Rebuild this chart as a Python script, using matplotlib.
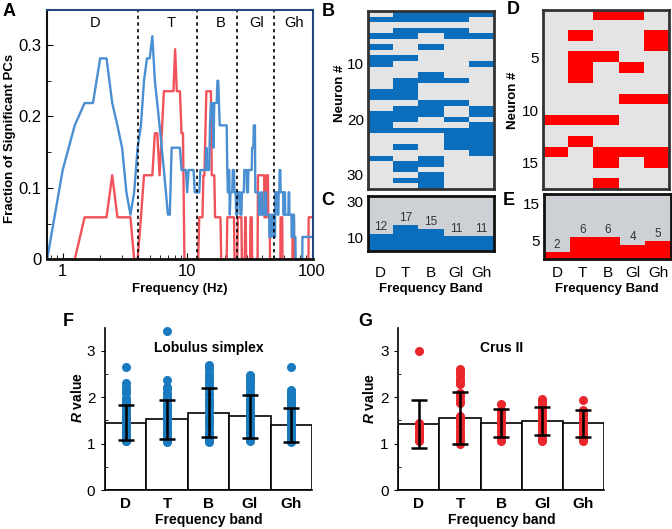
import numpy as np
import matplotlib
matplotlib.use('Agg')
import matplotlib.pyplot as plt
from matplotlib.colors import ListedColormap

plt.rcParams['font.family'] = ['Liberation Sans', 'DejaVu Sans']
plt.rcParams['mathtext.fontset'] = 'custom'
plt.rcParams['mathtext.it'] = 'Liberation Sans:italic:bold'
plt.rcParams['mathtext.rm'] = 'Liberation Sans:bold'

bands = ['D', 'T', 'B', 'Gl', 'Gh']
band_edges = [4, 12, 25, 50]

# ---- panel A: fraction of significant PCs vs frequency (vertices)
# lobulus simplex, counts out of 32 neurons
ls_freq = [0.75, 1.0, 1.25, 1.5, 1.75, 2.0, 2.25, 2.5, 2.75, 3.0, 3.25, 3.5, 3.75, 4.0, 4.25, 4.5,
           4.75, 5.0, 5.25, 5.5, 5.75, 6.0, 6.25, 6.5, 6.75, 7.0, 7.25, 7.5, 8.75, 9.0, 9.75, 10.0,
           10.25, 11.25, 11.5, 12.5, 12.75, 14.0, 14.25, 14.5, 15.0, 15.25, 15.5, 16.0, 16.25, 16.5,
           17.25, 17.5, 17.75, 18.0, 18.25, 20.75, 21.0, 21.25, 21.5, 21.75, 22.0, 22.25, 23.0, 23.25,
           23.75, 24.0, 24.5, 24.75, 25.25, 25.5, 26.5, 26.75, 27.25, 27.5, 28.5, 28.75, 30.0, 30.25,
           30.75, 31.0, 33.0, 33.25, 34.0, 34.25, 35.0, 35.25, 37.5, 37.75, 39.0, 39.25, 40.0, 40.25,
           42.0, 42.25, 43.0, 43.25, 45.5, 45.75, 47.0, 47.25, 49.0, 49.25, 50.75, 51.0, 53.0, 53.25,
           54.0, 54.25, 55.0, 55.25, 56.0, 56.25, 59.0, 59.25, 60.0, 60.25, 61.0, 61.25, 65.0, 65.25,
           66.0, 66.25, 68.75, 69.0, 70.5, 70.75, 72.0, 72.25, 74.0, 74.25, 84.0, 84.25, 100.0]
ls_count = [0, 4, 6, 7, 7, 9, 9, 7, 6, 5, 3, 2, 3, 5, 6, 8,
            9, 9, 10, 8, 7, 6, 5, 4, 3, 2, 2, 5, 5, 4, 4, 3,
            4, 4, 3, 3, 4, 4, 5, 4, 4, 6, 7, 7, 5, 7,
            7, 8, 8, 7, 6, 6, 4, 3, 4, 4, 2, 3, 3, 4,
            4, 3, 3, 2, 2, 3, 3, 2, 2, 3, 3, 4, 4, 3,
            3, 4, 4, 5, 5, 6, 6, 3, 3, 2, 2, 3, 3, 2,
            2, 3, 3, 2, 2, 1, 1, 2, 2, 1, 1, 3, 3, 2,
            2, 3, 3, 4, 4, 3, 3, 2, 2, 3, 3, 2, 2, 3,
            3, 2, 2, 1, 1, 2, 2, 1, 1, 0, 0, 1, 1]
# crus II, counts out of 17 neurons
cr_freq = [0.75, 1.25, 1.5, 2.25, 2.5, 2.75, 3.5, 3.75, 4.0, 4.25, 4.5, 5.25, 5.5, 5.75, 6.0, 6.25,
           6.5, 7.75, 8.0, 8.25, 8.75, 9.0, 9.25, 9.5, 12.25, 12.5, 13.25, 13.5, 13.75, 14.0, 14.25,
           15.5, 15.75, 16.5, 16.75, 18.5, 18.75, 20.75, 21.0, 23.75, 24.0, 25.25, 25.5, 27.25, 27.5,
           29.0, 29.25, 29.5, 29.75, 32.0, 32.25, 33.0, 33.25, 36.75, 37.0, 41.5, 41.75, 43.0, 43.25,
           44.5, 44.75, 46.0, 46.25, 56.0, 56.25, 58.0, 58.25, 70.0, 70.25, 72.0, 72.25, 94.25, 94.5, 100.0]
cr_count = [0, 0, 1, 1, 2, 1, 1, 0, 0, 1, 2, 2, 3, 3, 2, 3,
            4, 4, 5, 4, 4, 3, 3, 0, 0, 1, 1, 2, 2, 3, 4,
            4, 2, 2, 1, 1, 0, 0, 1, 1, 0, 0, 1, 1, 0,
            0, 1, 1, 0, 0, 1, 1, 0, 0, 2, 2, 1, 1, 2,
            2, 1, 1, 0, 0, 1, 1, 0, 0, 1, 1, 0, 0, 1, 1]

# ---- panels B-E: neurons with significant PCs in each band (row numbers)
ls_rows_D = [2, 5, 7, 9, 10, 15, 16, 19, 20, 21, 22, 27]
ls_rows_T = [1, 2, 4, 5, 9, 13, 14, 15, 16, 18, 19, 20, 22, 25, 28, 29, 31]
ls_rows_B = [1, 2, 4, 7, 12, 13, 17, 18, 19, 22, 27, 28, 30, 31, 32]
ls_rows_Gl = [1, 2, 4, 5, 13, 17, 20, 22, 23, 24, 25]
ls_rows_Gh = [1, 5, 10, 18, 19, 21, 22, 23, 24, 25, 26]
cr_rows_D = [11, 14]
cr_rows_T = [3, 5, 6, 7, 11, 13]
cr_rows_B = [1, 5, 11, 14, 15, 17]
cr_rows_Gl = [1, 6, 9, 14]
cr_rows_Gh = [3, 4, 9, 14, 15]

# ---- panels F-G: R values
ls_mean = [1.45, 1.52, 1.665, 1.59, 1.40]
ls_sd = [0.38, 0.43, 0.53, 0.46, 0.36]
cr_mean = [1.42, 1.55, 1.45, 1.48, 1.44]
cr_sd = [0.51, 0.56, 0.30, 0.30, 0.29]
ls_r_D = [2.65, 2.3, 2.22, 2.15, 2.08, 1.99, 1.94, 1.9, 1.85, 1.8, 1.76, 1.7, 1.66, 1.6, 1.55, 1.5,
          1.46, 1.41, 1.36, 1.31, 1.27, 1.22, 1.18, 1.14, 1.1, 1.08, 1.06, 1.05]
ls_r_T = [3.42, 2.38, 2.22, 2.17, 2.1, 2.04, 1.98, 1.93, 1.86, 1.8, 1.74, 1.68, 1.62, 1.56, 1.5,
          1.44, 1.38, 1.32, 1.26, 1.2, 1.15, 1.1, 1.07, 1.04]
ls_r_B = [2.7, 2.64, 2.58, 2.5, 2.44, 2.38, 2.3, 2.24, 2.17, 2.1, 2.04, 1.97, 1.91, 1.85, 1.78, 1.72,
          1.65, 1.58, 1.52, 1.46, 1.4, 1.33, 1.26, 1.2, 1.14, 1.09, 1.06, 1.04]
ls_r_Gl = [2.48, 2.43, 2.37, 2.3, 2.24, 2.18, 2.1, 2.04, 1.97, 1.9, 1.84, 1.77, 1.7, 1.64, 1.57,
           1.51, 1.45, 1.38, 1.32, 1.26, 1.2, 1.15, 1.1, 1.07, 1.05]
ls_r_Gh = [2.65, 2.15, 2.1, 2.05, 2.0, 1.95, 1.89, 1.83, 1.78, 1.72, 1.66, 1.6, 1.54, 1.48, 1.42,
           1.36, 1.3, 1.24, 1.18, 1.13, 1.09, 1.06, 1.04]
cr_r_D = [3.0, 1.45, 1.4, 1.36, 1.31, 1.26, 1.21, 1.16, 1.12, 1.08, 1.05]
cr_r_T = [2.6, 2.55, 2.5, 2.42, 2.35, 2.28, 2.08, 2.02, 1.95, 1.88, 1.6, 1.54, 1.48, 1.42, 1.35,
          1.28, 1.22, 1.16, 1.1, 1.04, 1.0]
cr_r_B = [1.85, 1.72, 1.65, 1.58, 1.5, 1.44, 1.37, 1.3, 1.24, 1.17, 1.11, 1.06]
cr_r_Gl = [1.97, 1.92, 1.86, 1.8, 1.74, 1.68, 1.61, 1.55, 1.48, 1.42, 1.35, 1.29, 1.22, 1.16, 1.1, 1.05]
cr_r_Gh = [1.95, 1.73, 1.68, 1.62, 1.56, 1.5, 1.44, 1.38, 1.32, 1.26, 1.2, 1.15, 1.1, 1.05]

blue_line = '#4a8fd2'
red_line = '#f0525a'
blue_cell = '#0a6ebd'
red_cell = '#ff0000'
grey_cell = '#e4e4e4'
grey_bg = '#cdd0d4'
dot_blue = '#1a7abf'
dot_red = '#e8262b'

W, H = 672, 529
fig = plt.figure(figsize=(W / 100, H / 100), dpi=100)


def box(l, t, r, b):
    return [l / W, 1 - b / H, (r - l) / W, (b - t) / H]


# ---------------- A
axA = fig.add_axes(box(46.7, 10, 313.3, 259.3))
axA.plot(cr_freq, np.array(cr_count) / 17, color=red_line, lw=1.7)
axA.plot(ls_freq, np.array(ls_count) / 32, color=blue_line, lw=1.7)
for e in band_edges:
    axA.axvline(e, color='black', ls=(0, (2, 2)), lw=1.2)
axA.set_xscale('log')
axA.set_xlim(0.744, 103)
axA.set_ylim(0, 0.349)
axA.set_yticks([0, 0.1, 0.2, 0.3])
axA.set_yticklabels(['0', '0.1', '0.2', '0.3'])
axA.set_yticks([0.05, 0.15, 0.25], minor=True)
axA.set_xticks([1, 10, 100])
axA.set_xticklabels(['1', '10', '100'])
axA.tick_params(which='both', direction='in', labelsize=12)
axA.tick_params(which='major', length=4)
axA.tick_params(which='minor', length=3)
for s in ['left', 'bottom']:
    axA.spines[s].set_color('#111111')
axA.spines['bottom'].set_linewidth(2)
axA.spines['left'].set_linewidth(1.5)
for s in ['top', 'right']:
    axA.spines[s].set_color('#23467e')
    axA.spines[s].set_linewidth(1.5)
band_lab_x = [1.82, 7.4, 18.7, 35.8, 72]
for x, b in zip(band_lab_x, bands):
    axA.text(x, 0.331, b, ha='center', va='center', fontsize=10.5)
fig.text(10 / W, 1 - 138 / H, 'Fraction of Significant PCs', rotation=90, ha='center', va='center',
         fontsize=9.5, fontweight='bold')
fig.text(180 / W, 1 - 289 / H, 'Frequency (Hz)', ha='center', va='center', fontsize=9.5, fontweight='bold')


def heat(ax, rows_list, n, color):
    mat = np.zeros((n, 5))
    for j, rows in enumerate(rows_list):
        mat[np.array(rows) - 1, j] = 1
    ax.imshow(mat, cmap=ListedColormap([grey_cell, color]), aspect='auto', interpolation='nearest',
              extent=(-0.5, 4.5, n + 0.5, 0.5), vmin=0, vmax=1)
    ax.set_xticks([])
    ax.tick_params(axis='y', length=0, labelsize=11, pad=3)
    for s in ax.spines.values():
        s.set_color('#333333')
        s.set_linewidth(2)


def counts_panel(ax, counts, color, ylim, yticks, pad, off):
    ax.set_facecolor(grey_bg)
    ax.bar(range(5), counts, width=1.0, color=color, zorder=2)
    ax.set_xlim(-0.5, 4.5)
    ax.set_ylim(*ylim)
    ax.set_yticks(yticks)
    ax.set_xticks(range(5))
    ax.set_xticklabels(bands)
    ax.tick_params(axis='y', length=0, labelsize=11, pad=3)
    ax.tick_params(axis='x', length=0, labelsize=11, pad=pad)
    for j, c in enumerate(counts):
        ax.text(j, c + off, str(c), ha='center', va='bottom', fontsize=8.5, color='#333333')
    for s in ax.spines.values():
        s.set_color('#111111')
        s.set_linewidth(2)


# ---------------- B / C
ls_rows = [ls_rows_D, ls_rows_T, ls_rows_B, ls_rows_Gl, ls_rows_Gh]
axB = fig.add_axes(box(368, 10.7, 494, 188.7))
heat(axB, ls_rows, 32, blue_cell)
axB.set_yticks([10, 20, 30])
axC = fig.add_axes(box(368, 196, 494, 250.7))
counts_panel(axC, [len(r) for r in ls_rows], blue_cell, (3, 33), [10, 30], 11, 0.6)
fig.text(340 / W, 1 - 93 / H, 'Neuron #', rotation=90, ha='center', va='center', fontsize=9.5, fontweight='bold')
fig.text(431 / W, 1 - 289 / H, 'Frequency Band', ha='center', va='center', fontsize=9.5, fontweight='bold')

# ---------------- D / E
cr_rows = [cr_rows_D, cr_rows_T, cr_rows_B, cr_rows_Gl, cr_rows_Gh]
axD = fig.add_axes(box(543.3, 10, 669, 189))
heat(axD, cr_rows, 17, red_cell)
axD.set_yticks([5, 10, 15])
axE = fig.add_axes(box(544.3, 194.3, 670.7, 259.3))
counts_panel(axE, [len(r) for r in cr_rows], red_cell, (0, 17.6), [5, 15], 5, 0.3)
fig.text(513 / W, 1 - 100 / H, 'Neuron #', rotation=90, ha='center', va='center', fontsize=9.5, fontweight='bold')
fig.text(607 / W, 1 - 289 / H, 'Frequency Band', ha='center', va='center', fontsize=9.5, fontweight='bold')


# ---------------- F / G
def rpanel(ax, means, sds, pts, dcol, title):
    ax.bar(range(5), means, width=1.0, color='white', edgecolor='black', lw=1.2, zorder=1)
    for j, vals in enumerate(pts):
        ax.plot([j] * len(vals), vals, 'o', color=dcol, ms=6.5, mec='none', zorder=2, clip_on=False)
    ax.errorbar(range(5), means, yerr=sds, fmt='none', ecolor='black', elinewidth=1.8,
                capsize=6, capthick=1.8, zorder=3)
    ax.set_xlim(-0.5, 4.5)
    ax.set_ylim(0, 3.5)
    ax.set_yticks([0, 1, 2, 3])
    ax.set_yticks([0.5, 1.5, 2.5], minor=True)
    ax.set_xticks(range(5))
    ax.set_xticklabels(bands, fontweight='bold')
    ax.tick_params(axis='x', length=0, labelsize=11, pad=5)
    ax.tick_params(axis='y', which='major', direction='out', length=3, labelsize=11, pad=4)
    ax.tick_params(axis='y', which='minor', direction='in', length=2)
    for s in ['top', 'right']:
        ax.spines[s].set_visible(False)
    for s in ['left', 'bottom']:
        ax.spines[s].set_linewidth(1.2)
    ax.text(2, 3.06, title, ha='center', va='center', fontsize=10, fontweight='bold')


axF = fig.add_axes(box(105, 327.6, 312, 490))
rpanel(axF, ls_mean, ls_sd, [ls_r_D, ls_r_T, ls_r_B, ls_r_Gl, ls_r_Gh], dot_blue, 'Lobulus simplex')
axG = fig.add_axes(box(398.3, 327.6, 604, 490))
rpanel(axG, cr_mean, cr_sd, [cr_r_D, cr_r_T, cr_r_B, cr_r_Gl, cr_r_Gh], dot_red, 'Crus II')

for x, y in [(78, 398), (370, 399)]:
    fig.text(x / W, 1 - y / H, r'$R$ value', rotation=90, ha='center', va='center', fontsize=10,
             fontweight='bold')
fig.text(209 / W, 1 - 520 / H, 'Frequency band', ha='center', va='center', fontsize=10, fontweight='bold')
fig.text(502 / W, 1 - 520 / H, 'Frequency band', ha='center', va='center', fontsize=10, fontweight='bold')

# panel letters
for lab, x, y in [('A', 9, 12), ('B', 328, 12), ('C', 328, 200), ('D', 513, 10), ('E', 509, 200),
                  ('F', 68, 321), ('G', 365, 321)]:
    fig.text(x / W, 1 - y / H, lab, ha='center', va='center', fontsize=13, fontweight='bold')

fig.savefig('out.png', dpi=100)
